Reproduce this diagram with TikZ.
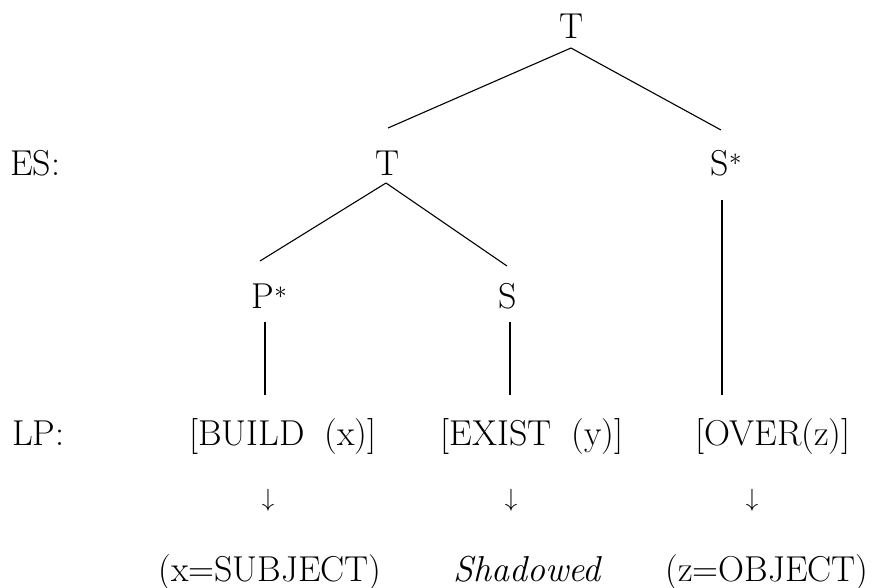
\documentclass[tikz,border=0pt]{standalone}
\usetikzlibrary{calc}
\begin{document}
\begin{tikzpicture}[x=1pt,y=-1pt,
  lab/.style={inner sep=0pt,anchor=base,font=\fontsize{36}{42}\selectfont},
  side/.style={inner sep=0pt,anchor=base west,font=\fontsize{36}{42}\selectfont},
  arr/.style={inner sep=0pt,font=\fontsize{34}{40}\selectfont},
  edge/.style={line width=1.1pt}]
\useasboundingbox (0,0) rectangle (876,587);
\node[side] (es) at (10,175) {ES:};
\node[side] (lp) at (12,445) {LP:};
\node[lab] (t0) at (572,38) {T};
\node[lab] (t1) at (388,175) {T};
\node[lab] (s0) at (720,175) {S\rlap{$^*$}};
\node[lab] (p) at (263,308) {P\rlap{$^*$}};
\node[lab] (s1) at (508,308) {S};
\node[lab] (build) at (283,445) {[BUILD\hspace{.55em}(x)]};
\node[lab] (exist) at (532,445) {[EXIST\hspace{.55em}(y)]};
\node[lab] (over) at (773,445) {[OVER(z)]};
\node[arr] (a1) at (268,500) {$\downarrow$};
\node[arr] (a2) at (511,500) {$\downarrow$};
\node[arr] (a3) at (752,500) {$\downarrow$};
\node[lab] (subj) at (270,581) {(x=SUBJECT)};
\node[lab] (shad) at (527,581) {\itshape Shadowed};
\node[lab] (obj) at (767,581) {(z=OBJECT)};
\draw[edge] ($(t0.base)+(-1,10)$) -- ($(t1.base)+(0,-47)$);
\draw[edge] ($(t0.base)+(-1,10)$) -- ($(s0.base)+(1,-45)$);
\draw[edge] ($(t1.base)+(-2,8)$) -- ($(p.base)+(-3,-47)$);
\draw[edge] ($(t1.base)+(-2,8)$) -- ($(s1.base)+(-1,-42)$);
\draw[edge] ($(p.base)+(2,14)$) -- ($(build.base)+(-18,-50)$);
\draw[edge] ($(s1.base)+(2,14)$) -- ($(exist.base)+(-22,-50)$);
\draw[edge] ($(s0.base)+(2,25)$) -- ($(over.base)+(-51,-50)$);
\end{tikzpicture}
\end{document}
